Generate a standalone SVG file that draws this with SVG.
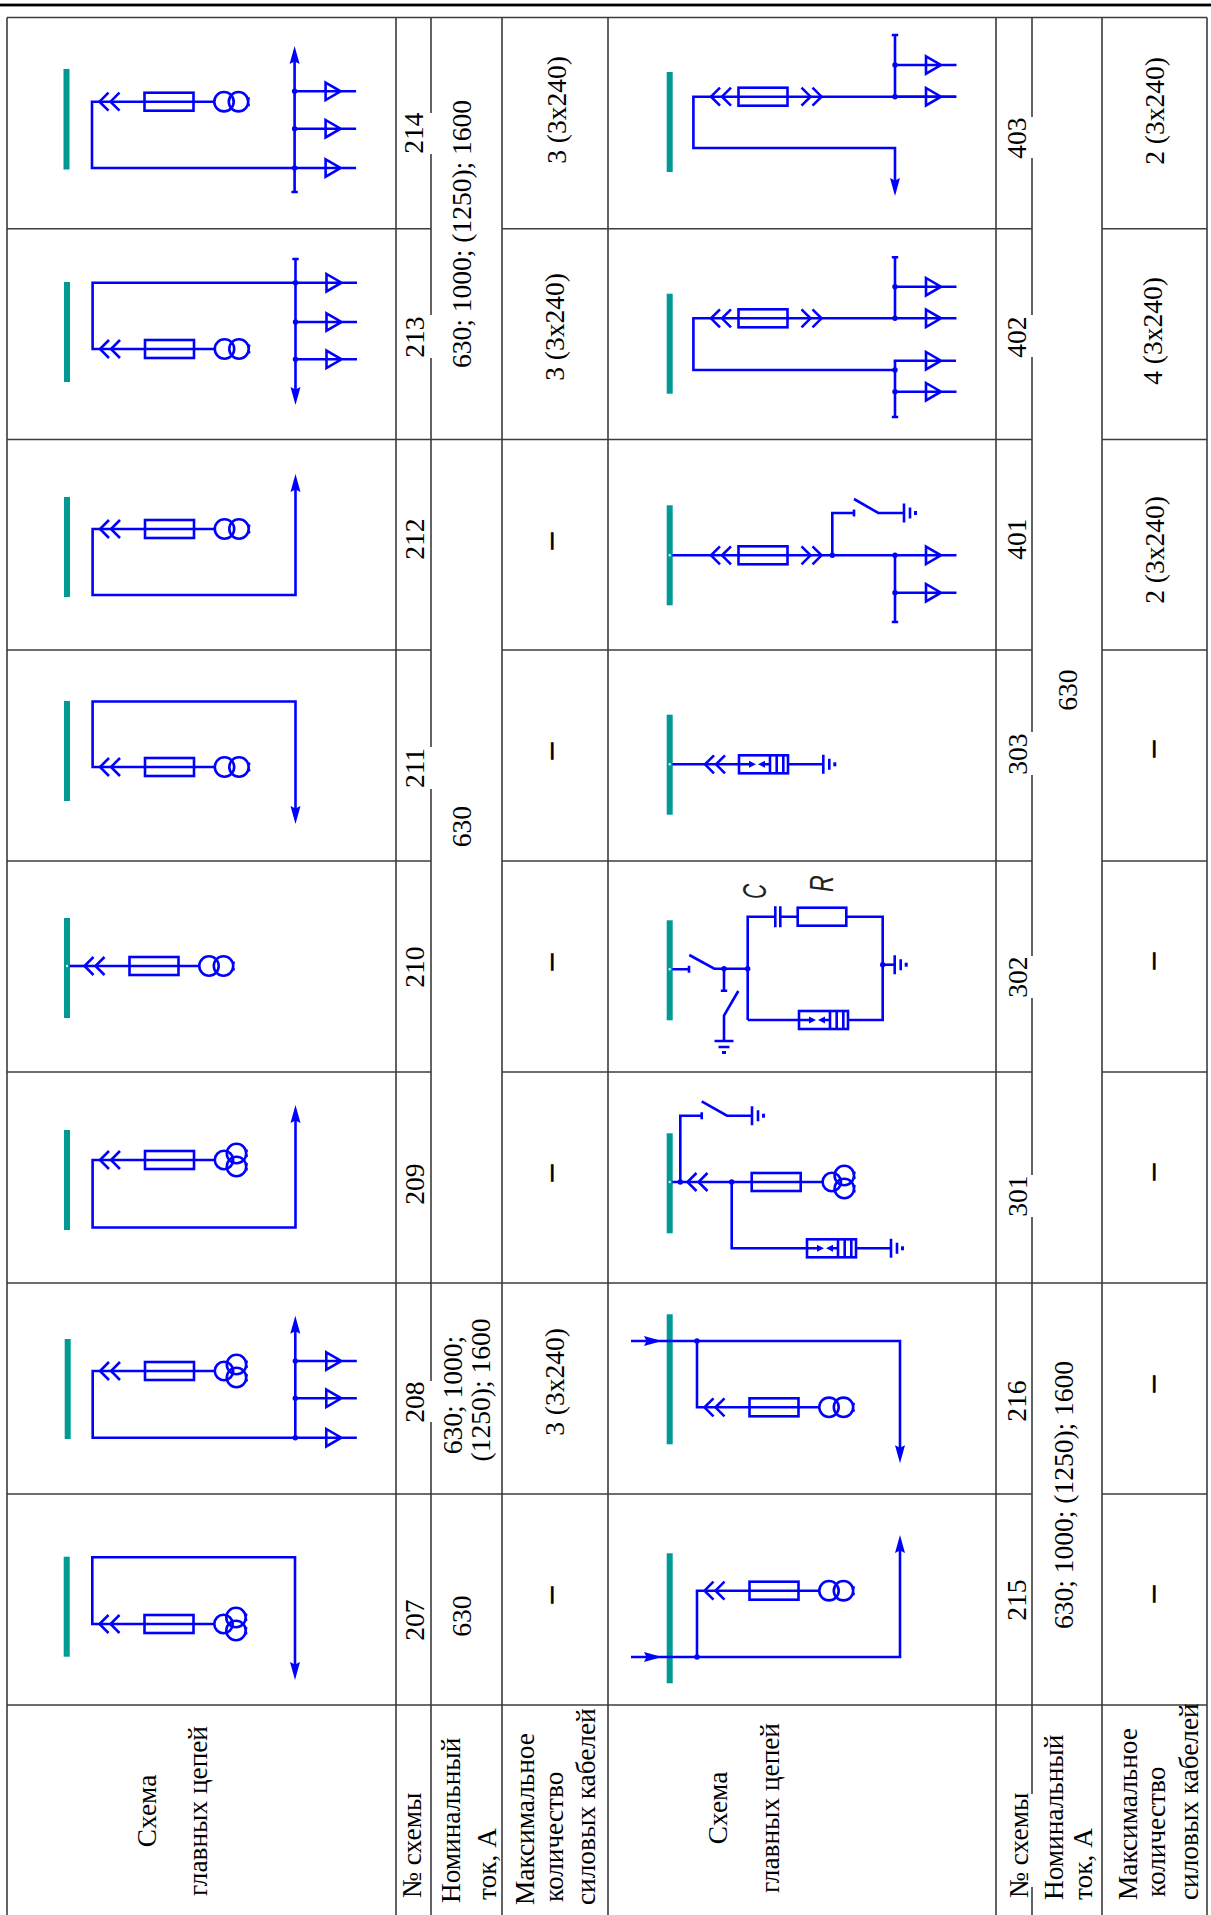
<svg xmlns="http://www.w3.org/2000/svg" xmlns:xlink="http://www.w3.org/1999/xlink" width="1211" height="1915" viewBox="0 0 1211 1915">
<style>
.w{stroke:#00f;stroke-width:2.6;fill:none}
.f{fill:#00f;stroke:none}
.bar{fill:#009a94}
.grid{stroke:#3c3c3c;stroke-width:1.6;fill:none}
.bd{fill:#d8f2f0;stroke:#009a94;stroke-width:1.6}
text{font-family:"Liberation Serif","Times New Roman",serif;fill:#000}
.n{font-size:27.5px;text-anchor:middle}
.h{font-size:27.3px;text-anchor:start}
.c{font-size:27.3px;text-anchor:middle}
.d{font-size:32px;text-anchor:middle;stroke:#000;stroke-width:1}
.l{font-family:"Liberation Sans",Arial,sans-serif;font-style:italic;font-size:34px;fill:#222}
</style>
<defs>
<path id="plug" class="w" d="M9.5,-9L0.5,0L9.5,9M20.5,-9L11.5,0L20.5,9"/>
<path id="plugR" class="w" d="M-9.5,-9L-0.5,0L-9.5,9M-20.5,-9L-11.5,0L-20.5,9"/>
<rect id="fuse" class="w" x="0" y="-9" width="49" height="18"/>
<g id="tx2" class="w"><circle cx="10" cy="0" r="9.7"/><circle cx="24.5" cy="0" r="9.7"/><path d="M34.5,-4.5v2.5M34.5,2v2.5"/></g>
<g id="tx3" class="w"><circle cx="9.5" cy="0" r="9.2"/><circle cx="22" cy="-6.5" r="9.7"/><circle cx="22" cy="6.5" r="9.7"/><path d="M32,-10.5v2.5M32,-5.5v2.5M32,3v2.5M32,8v2.5"/></g>
<g id="f2"><path class="w" d="M0,0H115"/><use href="#plug"/><use href="#fuse" x="45.5"/><use href="#tx2" x="115"/></g>
<g id="f3"><path class="w" d="M0,0H115"/><use href="#plug"/><use href="#fuse" x="45.5"/><use href="#tx3" x="115"/></g>
<g id="cart"><path class="w" d="M0,0H111.5"/><use href="#plug"/><use href="#fuse" x="28"/><use href="#plugR" x="111.5"/></g>
<path id="arrow" class="f" d="M0,0L5,18L0,15.5L-5,18Z"/>
<circle id="dot" class="f" r="2.7"/>
<g id="branch"><use href="#dot"/><path class="w" d="M0,0H61.5M31,-8.7L46,0L31,8.7Z"/></g>
<g id="gnd"><path class="w" d="M0,-9.5V9.5M6,-5.5V5.5"/><path class="w" style="stroke-width:3" d="M11.5,-2V2"/></g>
<g id="brk"><rect class="w" x="0" y="-9" width="49" height="18"/><path class="w" d="M0,0H11M25,0H31M31,-9V9M37.7,-9V9M44.3,-9V9"/><path class="f" d="M10,-3.5L17,0L10,3.5ZM26,-3.5L19,0L26,3.5Z"/></g>
</defs>

<rect x="0" y="3.6" width="1211" height="2.8" fill="#000"/>

<g id="grid" class="grid">
<path d="M7,17.5V1915M396,17.5V1915M431,17.5V1915M502,17.5V1915M608,17.5V1915M996,17.5V1915M1032,17.5V1915M1102,17.5V1915M1207,17.5V1915"/>
<path d="M7,17.5H1207M7,1705H1207M7,1283H1207"/>
<path d="M7,228.7H431M502,228.7H1032M1102,228.7H1207"/>
<path d="M7,439.5H1032M1102,439.5H1207"/>
<path d="M7,650H431M502,650H1032M1102,650H1207"/>
<path d="M7,861H431M502,861H1032M1102,861H1207"/>
<path d="M7,1072H431M502,1072H1032M1102,1072H1207"/>
<path d="M7,1494H1032M1102,1494H1207"/>
</g>
<g id="patches" fill="#fff">
<rect x="428" y="113" width="6" height="41"/><rect x="428" y="315" width="6" height="43"/><rect x="428" y="747" width="6" height="42"/><rect x="428" y="1381" width="6" height="41"/>
<rect x="1029" y="117" width="6" height="41"/><rect x="1029" y="315" width="6" height="42"/><rect x="1029" y="732" width="6" height="43"/><rect x="1029" y="956" width="6" height="42"/><rect x="1029" y="1175" width="6" height="42"/><rect x="1029" y="1794" width="6" height="93"/>
</g>

<g id="s214"><rect class="bar" x="63.5" y="69" width="6" height="100.5"/>
<path class="w" d="M99,101.7H92V168H294.6M294.6,58V192M291.4,192H297.8"/><use href="#f2" x="99" y="101.7"/><use href="#arrow" x="294.6" y="46"/>
<use href="#branch" x="294.6" y="91.3"/><use href="#branch" x="294.6" y="128.7"/><use href="#branch" x="294.6" y="168"/></g>

<g id="s213"><rect class="bar" x="64" y="282" width="6" height="100"/>
<path class="w" d="M99.5,349H92.6V282.7H295.5M295.5,259V393M292.3,259H298.7"/><use href="#f2" x="99.5" y="349"/><use href="#arrow" transform="translate(295.5,405) rotate(180)"/>
<use href="#branch" x="295.5" y="282.7"/><use href="#branch" x="295.5" y="322"/><use href="#branch" x="295.5" y="359.3"/></g>

<g id="s212"><rect class="bar" x="64" y="497" width="6" height="100"/>
<path class="w" d="M99.5,529H92.6V595H295.5V486"/><use href="#f2" x="99.5" y="529"/><use href="#arrow" x="295.5" y="474"/></g>

<g id="s211"><rect class="bar" x="64" y="701" width="6" height="100"/>
<path class="w" d="M99.5,767H92.6V701.5H295.5V812"/><use href="#f2" x="99.5" y="767"/><use href="#arrow" transform="translate(295.5,824) rotate(180)"/></g>

<g id="s210"><rect class="bar" x="64" y="918" width="6" height="100"/>
<path class="w" d="M67,966H84"/><use href="#f2" x="84" y="966"/><circle class="bd" cx="67" cy="966" r="2"/></g>

<g id="s209"><rect class="bar" x="64" y="1130" width="6" height="100"/>
<path class="w" d="M99.5,1160H92.6V1227.5H295.5V1117"/><use href="#f3" x="99.5" y="1160"/><use href="#arrow" x="295.5" y="1105"/></g>

<g id="s208"><rect class="bar" x="64.7" y="1339" width="6" height="100"/>
<path class="w" d="M99.5,1371H92.7V1437.7H295.3V1328"/><use href="#f3" x="99.5" y="1371"/><use href="#arrow" x="295.3" y="1315.7"/>
<use href="#branch" x="295.3" y="1361"/><use href="#branch" x="295.3" y="1398.3"/><use href="#branch" x="295.3" y="1437.7"/></g>

<g id="s207"><rect class="bar" x="63.7" y="1556.7" width="6" height="100"/>
<path class="w" d="M99.3,1624H92.3V1557.3H295V1668"/><use href="#f3" x="99" y="1624"/><use href="#arrow" transform="translate(295,1680) rotate(180)"/></g>

<g id="s403"><rect class="bar" x="666.7" y="72" width="6" height="100"/>
<path class="w" d="M711,96.7H693.4V148H895V184M822,96.7H956M895,96.7V35M891.8,35H898.2"/><use href="#cart" x="710.5" y="96.7"/><use href="#arrow" transform="translate(895,196) rotate(180)"/>
<use href="#branch" x="895" y="65"/><use href="#branch" x="895" y="96.7"/></g>

<g id="s402"><rect class="bar" x="666.7" y="293.7" width="6" height="100"/>
<path class="w" d="M711,318.3H693.4V370H895M895,360.7V417M891.8,417H898.2M822,318.3H895M895,318.3V257.3M891.8,257.3H898.2"/><use href="#cart" x="710.5" y="318.3"/>
<use href="#branch" x="895" y="286.7"/><use href="#branch" x="895" y="318.3"/><use href="#dot" x="895" y="370"/><use href="#branch" x="895" y="391.7"/>
<path class="w" d="M893.7,360.7H956M926,352L941,360.7L926,369.4Z"/></g>

<g id="s401"><rect class="bar" x="666.7" y="505.3" width="6" height="100"/>
<path class="w" d="M669.7,555.3H711M822,555.3H895M832.3,555.3V513H854M854,509.5V516.5M854,499L878.3,513H904M895,555.3V622M891.8,622H898.2"/><use href="#cart" x="710.5" y="555.3"/><use href="#gnd" x="904" y="513"/>
<use href="#dot" x="832.3" y="555.3"/><use href="#branch" x="895" y="555.3"/><use href="#branch" x="895" y="592.7"/><circle class="bd" cx="669.7" cy="555.3" r="2"/></g>

<g id="s303"><rect class="bar" x="666.7" y="714.7" width="6" height="100"/>
<path class="w" d="M669.7,764.3H739M788,764.3H823.3"/><use href="#plug" x="704.5" y="764.3"/><use href="#brk" x="739" y="764.3"/><use href="#gnd" x="823.3" y="764.3"/><circle class="bd" cx="669.7" cy="764.3" r="2"/></g>

<g id="s302"><rect class="bar" x="666.7" y="920.3" width="6" height="100"/>
<path class="w" d="M669.7,969.3H689M689,965.8V972.8M689.3,955L714.3,968.7H747.7M724,968.7V990.7M720.8,990.7H727.2M738.3,991L724,1015.7V1041M747.7,1020V916.7H775.3M780.3,916.7H797.7M775.3,906.2V927.2M780.3,906.2V927.2M846.3,916.7H882.7V1020H848M747.7,1020H799"/>
<rect class="w" x="797.7" y="907.7" width="48.6" height="18"/><use href="#brk" x="799" y="1020"/>
<use href="#dot" x="724" y="968.7"/><use href="#dot" x="747.7" y="968.7"/><use href="#dot" x="882.7" y="964.7"/><path class="w" d="M882.7,964.7H894.7"/><use href="#gnd" x="894.7" y="964.7"/>
<use href="#gnd" transform="translate(724,1041) rotate(90)"/><circle class="bd" cx="669.7" cy="969.3" r="2"/>
<text class="l" transform="translate(766,899) rotate(-90) scale(0.62,1)">C</text><text class="l" transform="translate(833,892) rotate(-90) scale(0.68,1)">R</text></g>

<g id="s301"><rect class="bar" x="666.7" y="1133.3" width="6" height="100"/>
<path class="w" d="M669.7,1182H687.5M680.3,1182V1115.7H701.7M701.7,1112.2V1119.2M701.7,1101.3L727,1115.7H752M731.7,1182V1248.3H807M856,1248.3H891"/>
<path class="w" d="M687.5,1182H822.3"/><use href="#plug" x="687" y="1182"/><use href="#fuse" x="751.7" y="1182"/><use href="#tx3" x="822.3" y="1182"/>
<use href="#gnd" x="752" y="1115.7"/><use href="#dot" x="680.3" y="1182"/><use href="#dot" x="731.7" y="1182"/><use href="#brk" x="807" y="1248.3"/><use href="#gnd" x="891" y="1248.3"/><circle class="bd" cx="669.7" cy="1182" r="2"/></g>

<g id="s216"><rect class="bar" x="666.7" y="1314.3" width="6" height="130"/>
<path class="w" d="M631,1341H900V1451M697,1341V1407.3H704"/><use href="#f2" x="704" y="1407.3"/><use href="#arrow" transform="translate(662,1341) rotate(90)"/><use href="#arrow" transform="translate(900,1463.3) rotate(180)"/><use href="#dot" x="697" y="1341"/></g>

<g id="s215"><rect class="bar" x="666.7" y="1553.3" width="6" height="130"/>
<path class="w" d="M631,1657H900V1547M697,1657V1590.7H704"/><use href="#f2" x="704" y="1590.7"/><use href="#arrow" transform="translate(662,1657) rotate(90)"/><use href="#arrow" x="900" y="1535"/><use href="#dot" x="697" y="1657"/></g>

<g id="labels">
<text class="n" transform="translate(423,133) rotate(-90)">214</text>
<text class="n" transform="translate(423.5,337) rotate(-90)">213</text>
<text class="n" transform="translate(424,539) rotate(-90)">212</text>
<text class="n" transform="translate(424,768) rotate(-90)">211</text>
<text class="n" transform="translate(424,967) rotate(-90)">210</text>
<text class="n" transform="translate(424,1184) rotate(-90)">209</text>
<text class="n" transform="translate(424,1402) rotate(-90)">208</text>
<text class="n" transform="translate(424,1620) rotate(-90)">207</text>
<text class="n" transform="translate(1026,138) rotate(-90)">403</text>
<text class="n" transform="translate(1026,337) rotate(-90)">402</text>
<text class="n" transform="translate(1026,539) rotate(-90)">401</text>
<text class="n" transform="translate(1026.5,754) rotate(-90)">303</text>
<text class="n" transform="translate(1026.5,977) rotate(-90)">302</text>
<text class="n" transform="translate(1026.5,1196) rotate(-90)">301</text>
<text class="n" transform="translate(1026,1401) rotate(-90)">216</text>
<text class="n" transform="translate(1026,1600) rotate(-90)">215</text>

<text class="n" transform="translate(471,234) rotate(-90)">630; 1000; (1250); 1600</text>
<text class="n" transform="translate(470.5,826.5) rotate(-90)">630</text>
<text class="n" transform="translate(462,1395) rotate(-90)">630; 1000;</text>
<text class="n" transform="translate(490,1390) rotate(-90)">(1250); 1600</text>
<text class="n" transform="translate(471,1616) rotate(-90)">630</text>
<text class="n" transform="translate(1077,690) rotate(-90)">630</text>
<text class="n" transform="translate(1072.5,1495) rotate(-90)">630; 1000; (1250); 1600</text>

<text class="n" transform="translate(566,110) rotate(-90)">3 (3x240)</text>
<text class="n" transform="translate(564,327) rotate(-90)">3 (3x240)</text>
<text class="n" transform="translate(564,1382) rotate(-90)">3 (3x240)</text>
<text class="n" transform="translate(1164,111) rotate(-90)">2 (3x240)</text>
<text class="n" transform="translate(1161.5,331) rotate(-90)">4 (3x240)</text>
<text class="n" transform="translate(1164,550) rotate(-90)">2 (3x240)</text>

<text class="d" transform="translate(560,541) rotate(-90)">–</text>
<text class="d" transform="translate(560,751) rotate(-90)">–</text>
<text class="d" transform="translate(560,962) rotate(-90)">–</text>
<text class="d" transform="translate(560,1173) rotate(-90)">–</text>
<text class="d" transform="translate(560,1595) rotate(-90)">–</text>
<text class="d" transform="translate(1162,749) rotate(-90)">–</text>
<text class="d" transform="translate(1162,961) rotate(-90)">–</text>
<text class="d" transform="translate(1162,1172) rotate(-90)">–</text>
<text class="d" transform="translate(1162,1384) rotate(-90)">–</text>
<text class="d" transform="translate(1162,1594) rotate(-90)">–</text>

<text class="c" transform="translate(156,1811) rotate(-90)">Схема</text>
<text class="c" transform="translate(207,1811) rotate(-90)">главных цепей</text>
<text class="h" transform="translate(421,1898) rotate(-90)">№ схемы</text>
<text class="h" transform="translate(460,1903) rotate(-90)">Номинальный</text>
<text class="h" transform="translate(496,1900) rotate(-90)">ток, А</text>
<text class="h" transform="translate(533.5,1905) rotate(-90)">Максимальное</text>
<text class="h" transform="translate(563,1902) rotate(-90)">количество</text>
<text class="h" transform="translate(595,1905) rotate(-90)">силовых кабелей</text>

<text class="c" transform="translate(727,1808) rotate(-90)">Схема</text>
<text class="c" transform="translate(779,1808) rotate(-90)">главных цепей</text>
<text class="h" transform="translate(1028,1898) rotate(-90)">№ схемы</text>
<text class="h" transform="translate(1063,1900) rotate(-90)">Номинальный</text>
<text class="h" transform="translate(1092,1900) rotate(-90)">ток, А</text>
<text class="h" transform="translate(1137,1900) rotate(-90)">Максимальное</text>
<text class="h" transform="translate(1165,1897) rotate(-90)">количество</text>
<text class="h" transform="translate(1198,1900) rotate(-90)">силовых кабелей</text>
</g>
</svg>
